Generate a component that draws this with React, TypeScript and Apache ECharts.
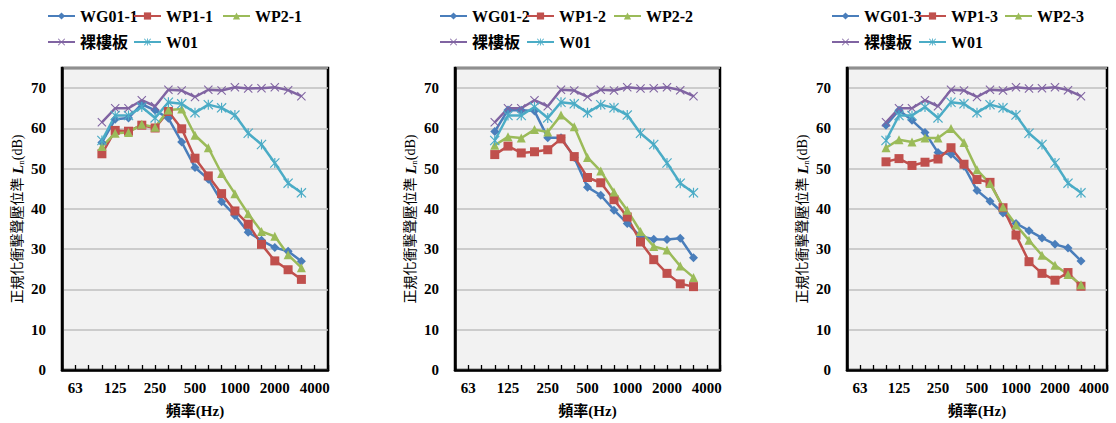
import React, { useEffect, useRef } from "react";
import * as echarts from "echarts";

// Category axis: 1/3-octave band centres (Hz)
const FREQS = ["50", "63", "80", "100", "125", "160", "200", "250", "315", "400", "500", "630", "800", "1000", "1250", "1600", "2000", "2500", "3150", "4000", "5000"];
// Bands that carry measured data
const BANDS = ["100", "125", "160", "200", "250", "315", "400", "500", "630", "800", "1000", "1250", "1600", "2000", "2500", "3150"];
// Tick labels shown on the x axis
const TICK_LABELS = ["63", "125", "250", "500", "1000", "2000", "4000"];

const BARE = [61.5, 65, 65, 67, 65.5, 69.6, 69.4, 67.8, 69.6, 69.4, 70.2, 69.9, 70, 70.2, 69.5, 68];
const W01 = [57, 63.2, 63.2, 65.3, 62.6, 66.5, 66.1, 63.9, 65.9, 65.1, 63.3, 58.8, 56, 51.4, 46.4, 44];

const WG01_1 = [56.5, 62.3, 62.6, 66, 64.5, 62.5, 56.6, 50.3, 47.4, 41.8, 38.4, 34.2, 32.2, 30.4, 29.5, 27];
const WP1_1 = [53.7, 59.5, 59.3, 60.8, 60.1, 64.2, 59.9, 52.6, 48.2, 43.8, 39.5, 36.2, 31.2, 27.1, 24.9, 22.5];
const WP2_1 = [55.5, 58.8, 59, 61, 60.3, 64.6, 64.8, 58.3, 55.2, 48.8, 43.8, 38.8, 34.4, 33.2, 28.6, 25.4];

const WG01_2 = [59.2, 64.6, 64.5, 64.3, 57.7, 57.7, 52.8, 45.4, 43.4, 39.7, 36.4, 33.2, 32.5, 32.4, 32.7, 27.9];
const WP1_2 = [53.5, 55.6, 53.9, 54.2, 54.7, 57.4, 53, 47.8, 46.5, 42.3, 38, 31.8, 27.4, 24, 21.4, 20.7];
const WP2_2 = [55.8, 57.9, 57.6, 59.7, 59.1, 63.3, 60.4, 52.8, 49.4, 44.2, 39.7, 34.4, 30.7, 29.8, 25.8, 23];

const WG01_3 = [60.8, 64.5, 62, 59, 54, 53.6, 50.6, 44.6, 41.9, 39, 36.4, 34.6, 32.8, 31.2, 30.3, 27.1];
const WP1_3 = [51.7, 52.5, 50.8, 51.6, 52.4, 55.2, 51.1, 47.3, 46.6, 40.3, 33.5, 26.9, 24, 22.3, 24.2, 20.8];
const WP2_3 = [55.2, 57.2, 56.6, 57.6, 57.6, 60, 56.5, 49.7, 46.3, 40.5, 36, 32.2, 28.5, 26, 23.7, 21.2];

const PANELS = [
  { suffix: "1", wg: WG01_1, wp1: WP1_1, wp2: WP2_1 },
  { suffix: "2", wg: WG01_2, wp1: WP1_2, wp2: WP2_2 },
  { suffix: "3", wg: WG01_3, wp1: WP1_3, wp2: WP2_3 },
];

const GRID_LEFT = [62, 455, 847];
const GRID_WIDTH = [266, 265, 260];
const GRID_TOP = 68;
const GRID_HEIGHT = 302;
const LEGEND_X = [
  [47, 133, 222],
  [439, 526, 613],
  [831, 918, 1004],
];
const LEGEND_ROW_TOP = [8, 34];

const SERIF = "'Liberation Serif', 'Times New Roman', 'Noto Sans CJK TC', serif";

const X_SYMBOL = "path://M1,0 L6,5 L11,0 L12,1 L7,6 L12,11 L11,12 L6,7 L1,12 L0,11 L5,6 L0,1 Z";
const STAR_SYMBOL = X_SYMBOL + " M5.3,0 L6.7,0 L6.7,12 L5.3,12 Z";

const STYLES = [
  { color: "#4A7EBB", symbol: "diamond", size: 9 },
  { color: "#C0504D", symbol: "rect", size: 9 },
  { color: "#9BBB59", symbol: "triangle", size: 9 },
  { color: "#8064A2", symbol: X_SYMBOL, size: 9 },
  { color: "#4BACC6", symbol: STAR_SYMBOL, size: 10 },
];

function toAxis(values: number[]) {
  return FREQS.map((f) => {
    const i = BANDS.indexOf(f);
    return i >= 0 ? values[i] : null;
  });
}

export default function App() {
  const ref = useRef<HTMLDivElement>(null);

  useEffect(() => {
    if (!ref.current) return;
    const chart = echarts.init(ref.current, null, { renderer: "svg" });

    const grid: any[] = [];
    const xAxis: any[] = [];
    const yAxis: any[] = [];
    const series: any[] = [];
    const legend: any[] = [];

    PANELS.forEach((p, pi) => {
      grid.push({
        left: GRID_LEFT[pi],
        top: GRID_TOP,
        width: GRID_WIDTH[pi],
        height: GRID_HEIGHT,
        show: true,
        backgroundColor: "#F2F2F2",
        borderColor: "#000",
        borderWidth: 2.5,
      });
      xAxis.push({
        type: "category",
        gridIndex: pi,
        data: FREQS,
        boundaryGap: false,
        name: "頻率(Hz)",
        nameLocation: "middle",
        nameGap: 33,
        nameTextStyle: { fontFamily: SERIF, fontWeight: "bold", fontSize: 15, color: "#000" },
        axisLine: { show: true, lineStyle: { color: "#000", width: 2.5 } },
        axisTick: { show: true, inside: true, interval: 0, length: 5, lineStyle: { color: "#000", width: 1.3 } },
        axisLabel: {
          interval: (_i: number, v: string) => TICK_LABELS.includes(v),
          fontFamily: SERIF,
          fontWeight: "bold",
          fontSize: 15,
          color: "#000",
          margin: 10,
        },
        splitLine: { show: false },
      });
      yAxis.push({
        type: "value",
        gridIndex: pi,
        min: 0,
        max: 75,
        interval: 10,
        name: "正規化衝擊聲壓位準 {i|L}{s|n}(dB)",
        nameLocation: "middle",
        nameGap: 37,
        nameRotate: 90,
        nameTextStyle: {
          fontFamily: SERIF,
          fontSize: 14,
          color: "#000",
          rich: {
            i: { fontFamily: SERIF, fontStyle: "italic", fontWeight: "bold", fontSize: 15, color: "#000" },
            s: { fontFamily: SERIF, fontSize: 9, color: "#000", verticalAlign: "bottom", padding: [5, 0, 0, 0] },
          },
        },
        axisLine: { show: true, lineStyle: { color: "#000", width: 2.5 } },
        axisTick: { show: false },
        axisLabel: {
          showMaxLabel: false,
          formatter: (v: number) => (v > 70 ? "" : String(v)),
          fontFamily: SERIF,
          fontWeight: "bold",
          fontSize: 15,
          color: "#000",
          margin: 16,
        },
        splitLine: { show: true, lineStyle: { color: "#BFBFBF", width: 1.5 } },
      });

      const names = [`WG01-${p.suffix}`, `WP1-${p.suffix}`, `WP2-${p.suffix}`, "裸樓板", "W01"];
      const values = [p.wg, p.wp1, p.wp2, BARE, W01];
      names.forEach((name, si) => {
        const st = STYLES[si];
        series.push({
          type: "line",
          name,
          xAxisIndex: pi,
          yAxisIndex: pi,
          data: toAxis(values[si]),
          symbol: st.symbol,
          symbolSize: st.size,
          showSymbol: true,
          showAllSymbol: true,
          lineStyle: { color: st.color, width: 2.5 },
          itemStyle: { color: st.color, borderWidth: 0 },
          emphasis: { disabled: true },
        });
        const row = si < 3 ? 0 : 1;
        const col = si < 3 ? si : si - 3;
        legend.push({
          data: [name],
          left: LEGEND_X[pi][col],
          top: LEGEND_ROW_TOP[row],
          itemWidth: 27,
          itemHeight: 9,
          itemGap: 0,
          padding: 0,
          textStyle: { fontFamily: SERIF, fontWeight: "bold", fontSize: 16, color: "#000" },
        });
      });
    });

    chart.setOption({
      animation: false,
      backgroundColor: "#fff",
      grid,
      xAxis,
      yAxis,
      series,
      legend,
    });

    return () => chart.dispose();
  }, []);

  return (
    <div
      ref={ref}
      style={{ position: "absolute", left: 0, top: 0, width: 1116, height: 423 }}
    />
  );
}
